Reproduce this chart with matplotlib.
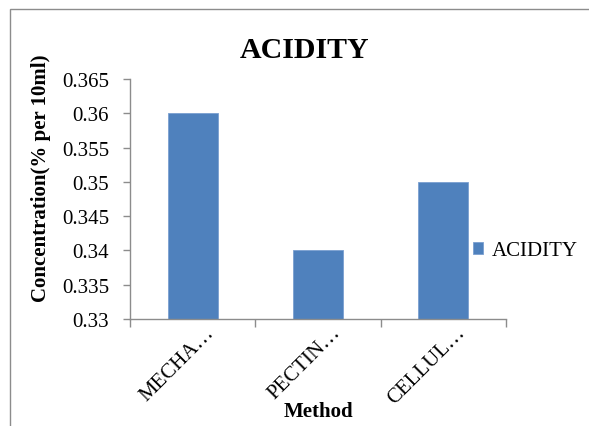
import numpy as np
import matplotlib.pyplot as plt
from matplotlib.patches import Rectangle

categories = ["MECHA…", "PECTIN…", "CELLUL…"]
acidity = [0.36, 0.34, 0.35]
yticks = [0.33, 0.335, 0.34, 0.345, 0.35, 0.355, 0.36, 0.365]
ytick_labels = ["0.33", "0.335", "0.34", "0.345", "0.35", "0.355", "0.36", "0.365"]

plt.rcParams["font.family"] = ["Liberation Serif", "DejaVu Serif"]

fig = plt.figure(figsize=(5.89, 4.27), dpi=100)
W, H = 589, 427

# chart area border (Excel style)
fig.add_artist(Rectangle((10 / W, -0.05), 1.0, (H - 10) / H + 0.05, transform=fig.transFigure,
                         fill=False, edgecolor="#8c8c8c", linewidth=1.0))

ax = fig.add_axes([130 / W, (H - 320) / H, (506 - 130) / W, (320 - 80) / H])

x = np.arange(len(categories))
ax.bar(x, acidity, width=0.4, color="#4F81BD", edgecolor="#7a9fd0", linewidth=0.6,
       label="ACIDITY", zorder=2)

ax.set_xlim(-0.5, len(categories) - 0.5)
ax.set_ylim(0.33, 0.365)
ax.set_yticks(yticks)
ax.set_yticklabels(ytick_labels, fontsize=15)

# category boundary ticks
ax.set_xticks(np.arange(len(categories) + 1) - 0.5)
ax.set_xticklabels([])
ax.tick_params(axis="x", length=6, width=1, color="#8c8c8c", direction="out")
ax.tick_params(axis="y", length=5, width=1, color="#8c8c8c", direction="out", pad=10)
for i, lab in enumerate(categories):
    ax.text(i + 0.1, 0.3295, lab, rotation=45, ha="right", va="top", fontsize=15,
            rotation_mode="anchor", transform=ax.transData)

for side in ["top", "right"]:
    ax.spines[side].set_visible(False)
for side in ["left", "bottom"]:
    ax.spines[side].set_color("#8c8c8c")
    ax.spines[side].set_linewidth(1.0)

ax.set_ylabel("Concentration(% per 10ml)", fontsize=15, fontweight="bold")
ax.yaxis.set_label_coords((51 - 130) / (506 - 130), (320 - 178) / 240)
fig.text(318 / W, 1 - 412 / H, "Method", ha="center", va="center", fontsize=15, fontweight="bold")
fig.text(305 / W, 1 - 50 / H, "ACIDITY", ha="center", va="center", fontsize=21.5, fontweight="bold")

ax.legend(loc="center left", bbox_to_anchor=((473 - 130) / (506 - 130), (320 - 252) / 240),
          frameon=False, fontsize=15, handlelength=0.5, handleheight=0.5,
          handletextpad=0.4, borderaxespad=0.0, borderpad=0.0)

plt.savefig("out.png", dpi=100)
